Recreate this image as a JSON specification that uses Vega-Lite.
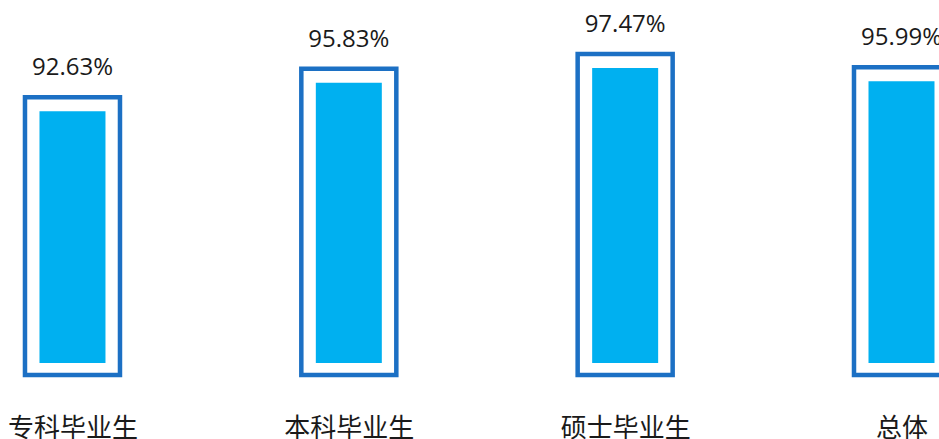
{
  "$schema": "https://vega.github.io/schema/vega-lite/v6.json",
  "width": 939,
  "height": 375,
  "autosize": {"type": "none"},
  "padding": {"left": 0, "top": 0, "right": 0, "bottom": 64},
  "background": "white",
  "config": {"view": {"stroke": null}},
  "data": {
    "values": [
      {"group": "专科毕业生", "rate": 0.9263},
      {"group": "本科毕业生", "rate": 0.9583},
      {"group": "硕士毕业生", "rate": 0.9747},
      {"group": "总体", "rate": 0.9599}
    ]
  },
  "encoding": {
    "x": {
      "field": "group",
      "type": "nominal",
      "sort": null,
      "scale": {"type": "point", "padding": 0.199, "align": 0.659},
      "axis": {
        "title": null,
        "domain": false,
        "ticks": false,
        "grid": false,
        "labelAngle": 0,
        "labelFont": "Noto Sans CJK SC",
        "labelFontSize": 26,
        "labelColor": "#1a1a1a",
        "labelPadding": 40,
        "labelBaseline": "top"
      }
    },
    "y": {
      "field": "rate",
      "type": "quantitative",
      "scale": {"domain": [0.616, 1.035], "zero": false, "nice": false},
      "axis": null
    }
  },
  "layer": [
    {
      "mark": {"type": "bar", "width": 95, "fill": "white", "stroke": "#1C70C4", "strokeWidth": 4.5},
      "encoding": {"y2": {"datum": 0.616}}
    },
    {
      "mark": {"type": "bar", "width": 66, "color": "#00B0F0", "yOffset": 14, "y2Offset": -12},
      "encoding": {"y2": {"datum": 0.616}}
    },
    {
      "mark": {"type": "text", "dy": -22, "baseline": "alphabetic", "font": "Open Sans", "fontSize": 24, "color": "#1a1a1a"},
      "encoding": {"text": {"field": "rate", "type": "quantitative", "format": ".2%"}}
    }
  ]
}
